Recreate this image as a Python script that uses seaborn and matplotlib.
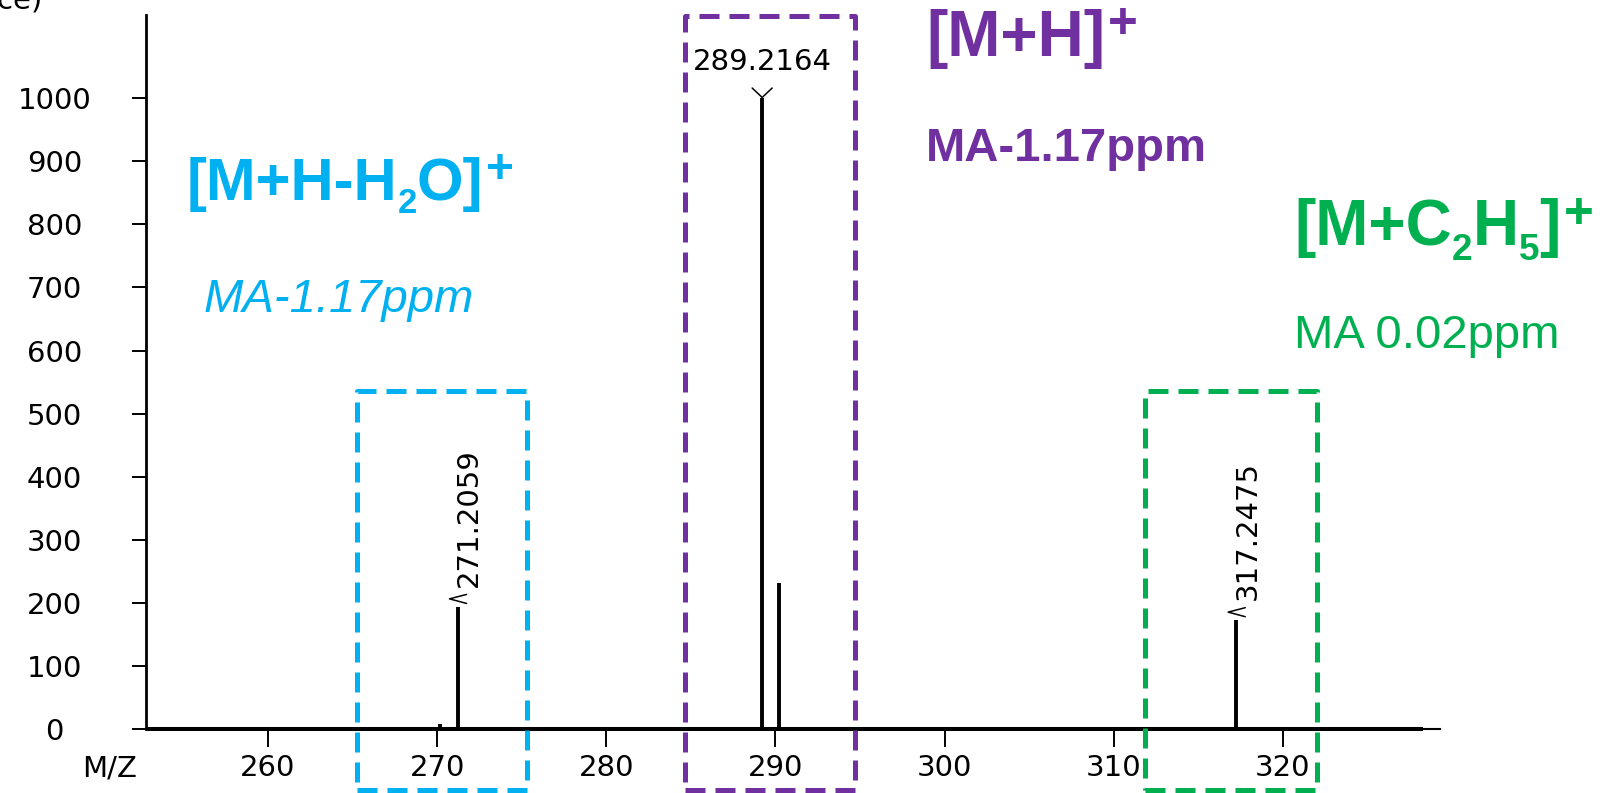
import matplotlib
matplotlib.use("Agg")
import matplotlib.pyplot as plt
import matplotlib.transforms as mtransforms
from matplotlib.patches import Rectangle
import pandas as pd
import seaborn as sns

# Centroided peaks of the spectrum (m/z, intensity)
mz = [270.17, 271.2059, 289.2164, 290.2198, 317.2475]
intensity = [8, 194, 1000, 232, 173]

# Peaks carrying an m/z label
label_mz = [271.2059, 289.2164, 317.2475]
label_int = [194, 1000, 173]
label_text = ["271.2059", "289.2164", "317.2475"]
label_rot = [90, 0, 90]

x_ticks = [260, 270, 280, 290, 300, 310, 320]
y_ticks = [0, 100, 200, 300, 400, 500, 600, 700, 800, 900, 1000]

# Adduct annotations: formula pieces as (text, kind) with kind in
# "n" (normal), "sub" (subscript), "sup" (superscript)
ion_labels = [
    [("[M+H-H", "n"), ("2", "sub"), ("O]", "n"), ("+", "sup")],
    [("[M+H]", "n"), ("+", "sup")],
    [("[M+C", "n"), ("2", "sub"), ("H", "n"), ("5", "sub"), ("]", "n"), ("+", "sup")],
]
error_labels = ["MA-1.17ppm", "MA-1.17ppm", "MA 0.02ppm"]
ion_colors = ["#00B0F0", "#7030A0", "#00B050"]

sns.set_theme(style="white")
plt.rcParams["font.family"] = ["DejaVu Sans"]

peaks = pd.DataFrame({"mz": mz, "intensity": intensity})

fig = plt.figure(figsize=(16.04, 7.93), dpi=100)
ax = fig.add_axes([0.0912, 0.0802, 0.8066, 0.9005])
ax.set_xlim(252.8, 329.3)
ax.set_ylim(0, 1131)

# stick spectrum
ax.vlines(peaks["mz"], 0, peaks["intensity"], colors="black", linewidth=2.8, zorder=3)
# heavy baseline
ax.plot([252.8, 328.3], [0, 0], color="black", linewidth=2.9, solid_capstyle="butt",
        clip_on=False, zorder=4)

sns.despine(ax=ax, top=True, right=True)
ax.spines["left"].set_linewidth(2.0)
ax.spines["left"].set_color("black")
ax.spines["bottom"].set_linewidth(1.5)
ax.spines["bottom"].set_color("black")

ax.set_xticks(x_ticks)
ax.set_xticklabels([str(v) for v in x_ticks])
ax.set_yticks(y_ticks)
ax.set_yticklabels([str(v) for v in y_ticks])
ax.tick_params(axis="x", direction="out", length=13, width=1.4, pad=5,
               labelsize=21, colors="black", bottom=True)
ax.tick_params(axis="y", direction="out", length=10, width=1.4, pad=56,
               labelsize=21, colors="black", left=True)
for lab in ax.get_yticklabels():
    lab.set_horizontalalignment("center")

ax.annotate("M/Z", xy=(250.6, 0), xytext=(0, -18), textcoords="offset points",
            ha="center", va="top", fontsize=21, color="black", annotation_clip=False)
fig.text(42 / 1604, 1 - 9 / 793, "Intensity (Abundance)", ha="right", va="baseline",
         fontsize=21, color="black")


def point_frame(x, y):
    """Transform whose units are points, with origin at the data point (x, y)."""
    return mtransforms.Affine2D().scale(fig.dpi / 72.0) + \
        mtransforms.ScaledTranslation(x, y, ax.transData)


# peak labels with their small chevron pointers
vee_x, vee_y = [-7.2, 0, 7.2], [7.2, 0.4, 7.2]
lt_x, lt_y = [6.5, -5.8, 6.5], [9.0, 5.8, 2.5]
for x, h, t, r in zip(label_mz, label_int, label_text, label_rot):
    if r == 0:
        ax.plot(vee_x, vee_y, color="black", linewidth=1.1, transform=point_frame(x, h),
                clip_on=False, zorder=5)
        ax.annotate(t, xy=(x, h), xytext=(0, 20.5), textcoords="offset points",
                    ha="center", va="baseline", fontsize=21, color="black",
                    annotation_clip=False)
    else:
        ax.plot(lt_x, lt_y, color="black", linewidth=1.1, transform=point_frame(x, h),
                clip_on=False, zorder=5)
        ax.annotate(t, xy=(x, h), xytext=(13.7, 14.4), textcoords="offset points",
                    ha="left", va="baseline", rotation=90, rotation_mode="anchor",
                    fontsize=21, color="black", annotation_clip=False)

# dashed boxes around each adduct cluster
box_x0 = [265.26, 284.68, 311.84]
box_x1 = [275.3, 294.72, 322.0]
box_top = [536, 1130, 536]
for x0, x1, top, c in zip(box_x0, box_x1, box_top, ion_colors):
    rect = Rectangle((x0, -96), x1 - x0, top + 96, fill=False, edgecolor=c,
                     linewidth=3.6, linestyle=(0, (4, 2)), joinstyle="round",
                     clip_on=False, zorder=6)
    ax.add_patch(rect)

renderer = fig.canvas.get_renderer()
piece_style = {"n": (1.0, 0.0, 0.0), "sub": (0.58, -0.22, 0.0), "sup": (0.8, 0.28, 0.05)}


def formula(x, y, pieces, size, color):
    """Lay out a chemical formula piece by piece on a common baseline."""
    dx = 0.0
    for i, (txt, kind) in enumerate(pieces):
        scale, rise, gap = piece_style[kind]
        if i > 0:
            dx += gap * size
        tr = mtransforms.offset_copy(ax.transData, fig=fig, x=dx, y=rise * size,
                                     units="points")
        t = ax.text(x, y, txt, transform=tr, fontsize=size * scale,
                    family="Liberation Sans", weight="bold", color=color,
                    ha="left", va="baseline", clip_on=False)
        dx += t.get_window_extent(renderer).width * 72.0 / fig.dpi


# adduct names and mass accuracy
title_pos = [(255.2, 839), (298.9, 1066), (320.67, 766.5)]
title_size = [43, 46, 46]
err_pos = [(256.2, 661), (298.9, 899.6), (320.67, 604)]
err_style = [dict(style="italic", weight="normal"),
             dict(style="normal", weight="bold"),
             dict(style="normal", weight="normal")]
for pieces, err, c, tp, ts, ep, st in zip(ion_labels, error_labels, ion_colors,
                                          title_pos, title_size, err_pos, err_style):
    formula(tp[0], tp[1], pieces, ts, c)
    ax.text(ep[0], ep[1], err, color=c, fontsize=34, family="Liberation Sans",
            ha="left", va="baseline", clip_on=False, **st)

fig.savefig("out.png", dpi=100, facecolor="white")
